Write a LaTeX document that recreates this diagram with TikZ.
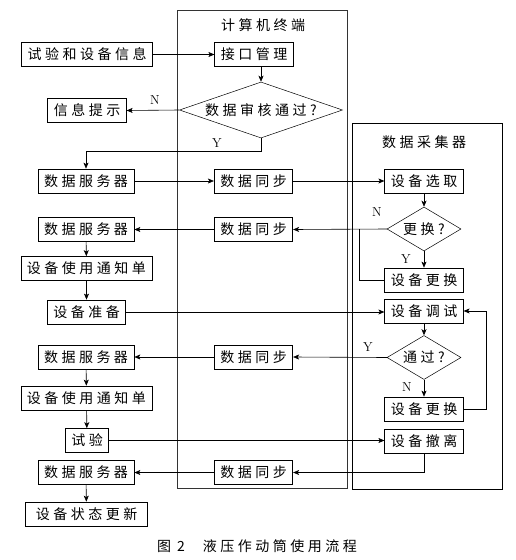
\documentclass[tikz,border=0pt]{standalone}
\usepackage{fontspec}
\newfontfamily\cjk{Noto Sans CJK SC}
\usetikzlibrary{shapes.geometric,arrows.meta}
% spread the characters of a label
\newcommand\sptext[1]{\spA#1\relax\unkern}
\def\spA#1{\ifx\relax#1\else#1\kern3.5pt\expandafter\spA\fi}
\tikzset{
  box/.style = {draw, line width = 0.7pt, inner xsep = 6pt, inner ysep = 0pt,
    minimum height = 24pt, font = \cjk\fontsize{14}{16}\selectfont},
  ask/.style = {draw, diamond, line width = 0.5pt, inner sep = 0pt,
    font = \cjk\fontsize{14}{16}\selectfont},
  yn/.style = {font = \fontsize{13}{15}\selectfont, inner sep = 0pt},
  flow/.style = {line width = 0.6pt, -{Stealth[length = 6pt, width = 5pt, inset = 1.5pt]}},
  link/.style = {line width = 0.6pt}
}
\begin{document}
\begin{tikzpicture}[x = 1pt, y = -1pt]
    \useasboundingbox (0, 0) rectangle (515, 560);
    % panels
    \draw [line width = 0.6pt, black!80] (177, 10) rectangle (347, 488);
    \draw [line width = 0.6pt] (352, 123) rectangle (502, 489);
    \node [font = \cjk\fontsize{14}{16}\selectfont] (pc) at (263, 25) {\sptext{计算机终端}};
    \node [font = \cjk\fontsize{14}{16}\selectfont] (col) at (424, 142) {\sptext{数据采集器}};
    % left column
    \node [box] (info) at (87, 54.5) {\sptext{试验和设备信息}};
    \node [box] (tip) at (87, 110.5) {\sptext{信息提示}};
    \node [box] (srv1) at (86, 181) {\sptext{数据服务器}};
    \node [box] (srv2) at (86, 229.5) {\sptext{数据服务器}};
    \node [box] (note1) at (86.5, 268.5) {\sptext{设备使用通知单}};
    \node [box] (prep) at (86.5, 312) {\sptext{设备准备}};
    \node [box] (srv3) at (86, 357) {\sptext{数据服务器}};
    \node [box] (note2) at (86.5, 398) {\sptext{设备使用通知单}};
    \node [box] (test) at (87, 440.5) {\sptext{试验}};
    \node [box] (srv4) at (86, 472.5) {\sptext{数据服务器}};
    \node [box, inner xsep = 10pt] (upd) at (86.5, 514) {\sptext{设备状态更新}};
    % middle column
    \node [box] (jk) at (254, 54.5) {\sptext{接口管理}};
    \node [ask, aspect = 2.9, minimum width = 163pt, minimum height = 56pt] (check) at (261, 110) {\sptext{数据审核通过?}};
    \node [box] (syn1) at (253.5, 181) {\sptext{数据同步}};
    \node [box] (syn2) at (253.5, 229.5) {\sptext{数据同步}};
    \node [box] (syn3) at (253.5, 357) {\sptext{数据同步}};
    \node [box] (syn4) at (253.5, 472.5) {\sptext{数据同步}};
    % right column
    \node [box] (sel) at (424, 181) {\sptext{设备选取}};
    \node [ask, aspect = 1.7, minimum width = 74pt, minimum height = 44pt] (ask1) at (424, 229) {\sptext{更换?}};
    \node [box] (chg1) at (424, 280) {\sptext{设备更换}};
    \node [box] (dbg) at (424, 311) {\sptext{设备调试}};
    \node [ask, aspect = 1.7, minimum width = 74pt, minimum height = 44pt] (ask2) at (424, 357.5) {\sptext{通过?}};
    \node [box] (chg2) at (424, 409) {\sptext{设备更换}};
    \node [box] (rem) at (424, 441) {\sptext{设备撤离}};
    \coordinate (join) at (359, 229);
    % yes / no marks
    \node [yn] (n1) at (155, 100) {N};
    \node [yn] (y1) at (217, 143) {Y};
    \node [yn] (n2) at (377, 212) {N};
    \node [yn] (y2) at (406, 259) {Y};
    \node [yn] (y3) at (368, 347) {Y};
    \node [yn] (n3) at (407, 387) {N};
    % connectors
    \draw [flow] (info) -- (jk);
    \draw [flow] (check.north |- jk.south) -- (check.north);
    \draw [flow] (check.west) -- (tip.east);
    \draw [flow] (check.south) -- ++(0, 13) -| (srv1.north);
    \draw [flow] (srv1) -- (syn1);
    \draw [flow] (syn1) -- (sel);
    \draw [flow] (sel) -- (ask1);
    \draw [flow] (ask1.west) -- (syn2.east);
    \draw [flow] (syn2) -- (srv2);
    \draw [link] (chg1.west) -| (join);
    \draw [flow] (ask1.south) -- (chg1.north);
    \draw [flow] (srv2) -- (note1);
    \draw [flow] (note1) -- (prep);
    \draw [flow] (prep.east) -- (prep.east -| dbg.west);
    \draw [flow] (dbg) -- (ask2);
    \draw [flow] (ask2.west) -- (syn3.east);
    \draw [flow] (syn3) -- (srv3);
    \draw [flow] (ask2.south) -- (chg2.north);
    \draw [flow] (chg2.east) -- ++(23, 0) |- (dbg.east);
    \draw [flow] (srv3) -- (note2);
    \draw [flow] (note2) -- (test);
    \draw [flow] (test.east) -- (test.east -| rem.west);
    \draw [flow] (rem.south) |- (syn4.east);
    \draw [flow] (syn4) -- (srv4);
    \draw [flow] (srv4) -- (upd);
    % caption
    \node [font = \cjk\fontsize{14}{16}\selectfont] (cap) at (257, 546) {图\kern6pt 2\kern18pt \sptext{液压作动筒使用流程}};
\end{tikzpicture}
\end{document}
